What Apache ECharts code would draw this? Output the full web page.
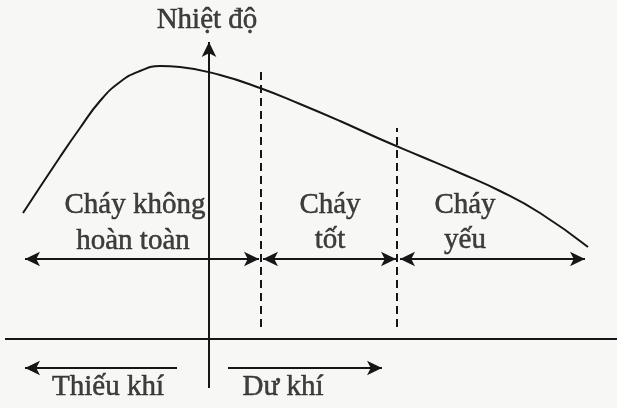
<!DOCTYPE html>
<html>
<head>
<meta charset="utf-8">
<script src="https://cdn.jsdelivr.net/npm/echarts@6/dist/echarts.min.js"></script>
<style>
html,body{margin:0;padding:0;background:#f7f7f5;}
#main{width:617px;height:408px;}
</style>
</head>
<body>
<div id="main"></div>
<script>
// đường nhiệt độ (x: lượng không khí, 0 = đủ khí; y: nhiệt độ)
var curveX=[-186,-149,-129,-109,-89,-69,-49,-29,11,51,91,131,171,211,251,291,331,379];
var curveY=[126,182,211,238,257,268,273,272,264,251,235,218,200,183,166,148,126,92];
// ranh giới các vùng cháy
var boundX=[52,188];
var boundTop=[269,211];
var zoneRowY=80;
// khoảng các vùng: [từ, đến]
var zones=[[-184,50],[54,187],[191,376]];
var airRowY=-29;
var airArrows=[[-32,-184],[19,173]];
// nhãn
var labelText=['Nhiệt độ','Cháy không','hoàn toàn','Cháy','tốt','Cháy','yếu','Thiếu khí','Dư khí'];
var labelX=[-2,-74,-76,121,121,256,256,-101,74];
var labelY=[319,134,98,134,99,134,99,-48,-48];

var ink='#161616';
var curve=[];
for(var i=0;i<curveX.length;i++){
	curve.push([curveX[i],curveY[i]]);
}
var labels=[];
for(var i=0;i<labelText.length;i++){
	labels.push([labelX[i],labelY[i],labelText[i]]);
}

function pt(x,y,sym){
	var o={coord:[x,y]};
	if(sym){o.symbol='arrow';o.symbolSize=[11,15];}else{o.symbol='none';}
	return o;
}
var lines=[];
// trục nhiệt độ
lines.push([pt(0,-49,false),pt(0,297,true)]);
// đường ngang
lines.push([pt(-204,0,false),pt(408,0,false)]);
// các vạch đứt
for(var i=0;i<boundX.length;i++){
	var a=pt(boundX[i],12,false),b=pt(boundX[i],boundTop[i],false);
	a.lineStyle={type:[8,5]};
	lines.push([a,b]);
}
// mũi tên hai đầu của các vùng
for(var i=0;i<zones.length;i++){
	lines.push([pt(zones[i][0],zoneRowY,true),pt(zones[i][1],zoneRowY,true)]);
}
for(var i=0;i<airArrows.length;i++){
	lines.push([pt(airArrows[i][0],airRowY,false),pt(airArrows[i][1],airRowY,true)]);
}

var myChart=echarts.init(document.getElementById('main'));
var option={
	backgroundColor:'#f7f7f5',
	animation:false,
	grid:{left:0,right:0,top:0,bottom:0},
	xAxis:{type:'value',min:-209,max:408,show:false},
	yAxis:{type:'value',min:-69,max:339,show:false},
	series:[
		{
			type:'line',
			data:curve,
			smooth:0.5,
			symbol:'none',
			lineStyle:{color:ink,width:2},
			silent:true
		},
		{
			type:'line',
			data:[],
			silent:true,
			markLine:{
				silent:true,
				animation:false,
				label:{show:false},
				lineStyle:{color:ink,width:2,type:'solid'},
				data:lines
			}
		},
		{
			type:'scatter',
			data:labels,
			symbolSize:0,
			silent:true,
			label:{
				show:true,
				position:'inside',
				formatter:function(p){return p.data[2];},
				fontFamily:'Liberation Serif',
				fontSize:29,
				color:'#111',
				textBorderColor:'#111',
				textBorderWidth:0.5
			}
		}
	]
};
myChart.setOption(option);
</script>
</body>
</html>
